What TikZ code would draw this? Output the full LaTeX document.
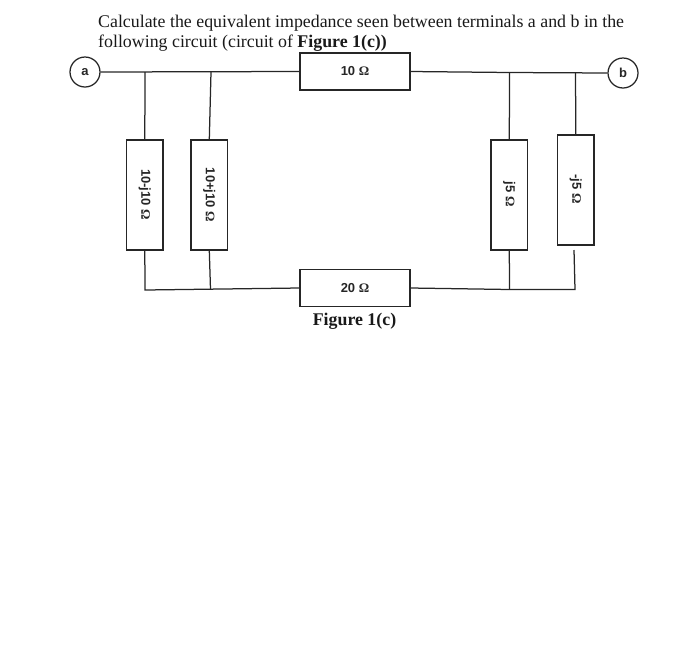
\documentclass[tikz,border=0pt]{standalone}
\usepackage{fontspec}
\setmainfont{Liberation Serif}
\newfontfamily\labelfont{Liberation Sans}
\newcommand{\ohm}{{\rmfamily\bfseries Ω}}
\begin{document}
\begin{tikzpicture}[x=1pt,y=-1pt,
  wire/.style={draw=black!85,line width=1.25pt},
  hbox/.style={draw=black!85,line width=1.25pt,minimum width=110pt,minimum height=37pt,inner sep=0pt,font=\labelfont\bfseries\fontsize{13}{15}\selectfont,text=black!85},
  vbox/.style={draw=black!85,line width=1.25pt,minimum width=36.5pt,minimum height=110pt,inner sep=0pt},
  vlabel/.style={rotate=-90,inner sep=0pt,font=\labelfont\bfseries\fontsize{13}{15}\selectfont,text=black!85},
  term/.style={circle,draw=black!85,line width=1.25pt,minimum size=30pt,inner sep=0pt,font=\labelfont\bfseries\fontsize{13}{15}\selectfont,text=black!85},
  prose/.style={anchor=base west,inner sep=0pt,font=\fontsize{17.85}{21}\selectfont,text=black!90}]
\useasboundingbox (0,0) rectangle (700,662);
\node[prose] (t1) at (98,27) {Calculate the equivalent impedance seen between terminals a and b in the};
\node[prose] (t2) at (98,47.5) {following circuit (circuit of \textbf{Figure 1(c))}};
\node[term] (a) at (85,72) {a};
\node[term] (b) at (623,73) {b};
\node[hbox] (r10) at (355,71.5) {10 \ohm};
\node[hbox] (r20) at (355,288) {20 \ohm};
\node[vbox] (z1) at (144.8,195) {};
\node[vlabel] (z1l) at (144.8,194.5) {10-j10 \ohm};
\node[vbox] (z2) at (209.3,195) {};
\node[vlabel] (z2l) at (209.3,195) {10+j10 \ohm};
\node[vbox] (z3) at (509.3,195) {};
\node[vlabel] (z3l) at (509.3,194) {j5 \ohm};
\node[vbox] (z4) at (575.8,190) {};
\node[vlabel] (z4l) at (575.8,189) {-j5 \ohm};
\node[anchor=base,inner sep=0pt,font=\fontsize{17.85}{21}\selectfont\bfseries,text=black!90] (fig) at (354.5,325) {Figure 1(c)};
\coordinate (ta) at (145,72);
\coordinate (tb) at (211,72);
\coordinate (tc) at (509.5,72.5);
\coordinate (td) at (575.5,73);
\coordinate (ba) at (145,290);
\coordinate (bb) at (210.5,289.5);
\coordinate (bc) at (509.5,289.5);
\coordinate (bd) at (575,289.5);
\coordinate (fd) at (574,250);
\draw[wire] (a.east) -- (r10.west);
\draw[wire] (r10.east) -- (tc) -- (b.west);
\draw[wire] (ta) -- (z1.north);
\draw[wire] (tb) -- (z2.north);
\draw[wire] (tc) -- (z3.north);
\draw[wire] (td) -- (z4.north);
\draw[wire] (z1.south) -- (ba) -- (r20.west);
\draw[wire] (z2.south) -- (bb);
\draw[wire] (r20.east) -- (bc) -- (bd) -- (fd);
\draw[wire] (z3.south) -- (bc);
\end{tikzpicture}
\end{document}
